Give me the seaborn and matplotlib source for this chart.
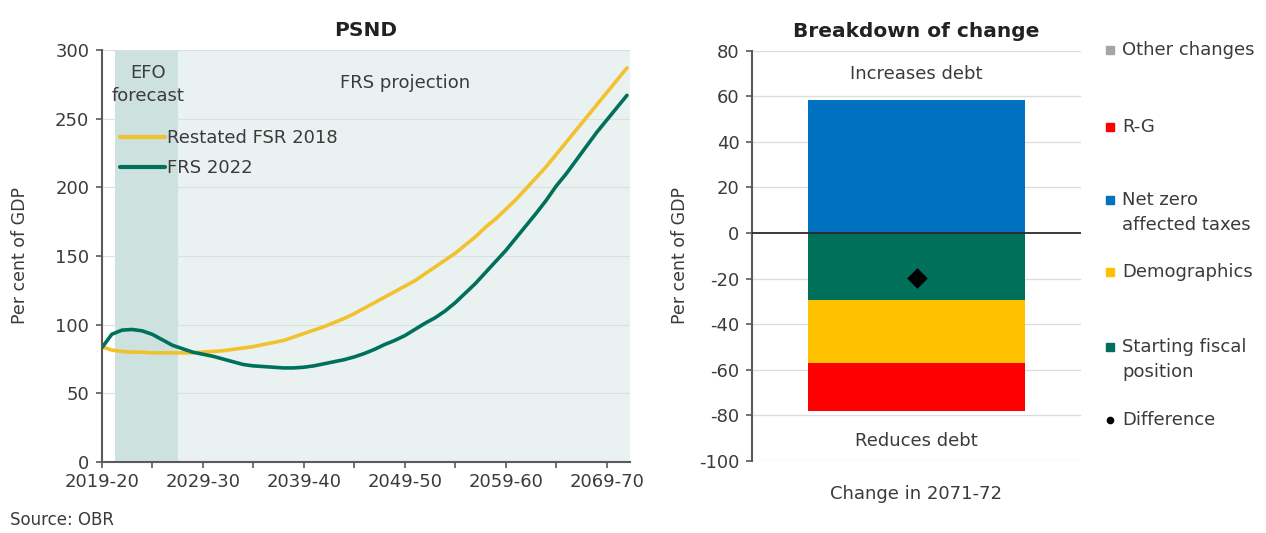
import numpy as np
import pandas as pd
import matplotlib
matplotlib.use("Agg")
import matplotlib.pyplot as plt
from matplotlib.lines import Line2D
import seaborn as sns

# PSND, per cent of GDP, 2019-20 .. 2071-72
years = [f"{y}-{(y + 1) % 100:02d}" for y in range(2019, 2072)]
fsr_2018 = [84, 81.5, 80.5, 80, 80, 79.5, 79.5, 79.5, 79.5, 79.5,
            80, 80.5, 81, 82, 83, 84, 85.5, 87, 88.5, 91,
            93.5, 96, 98.5, 101.5, 104.5, 108, 112, 116, 120, 124,
            128, 132, 137, 142, 147, 152, 158, 164, 171, 177,
            184, 191, 199, 207, 215, 224, 233, 242, 251, 260,
            269, 278, 287]
frs_2022 = [83, 93, 96, 96.5, 95.5, 93, 89, 85, 82.5, 80,
            78.5, 77, 75, 73, 71, 70, 69.5, 69, 68.5, 68.5,
            69, 70, 71.5, 73, 74.5, 76.5, 79, 82, 85.5, 88.5,
            92, 96.5, 101, 105, 110, 116, 123, 130, 138, 146,
            154, 163, 172, 181, 190.5, 201, 210, 220, 230, 240,
            249, 258, 267]
series_names = ["Restated FSR 2018", "FRS 2022"]

# breakdown of change in 2071-72
bar_category = "Change in 2071-72"
net_zero_taxes = 58.5
neg_labels = ["Starting fiscal position", "Demographics", "R-G"]
neg_values = [-29.5, -27.5, -21.2]
other_changes = 0.0
difference = -19.7

text_col = "#3b3b3b"
axis_col = "#5a5a5a"
fs = 13

sns.set_theme(style="white")
plt.rcParams["font.family"] = ["DejaVu Sans"]
plt.rcParams["axes.unicode_minus"] = False
plt.rcParams["text.color"] = text_col
plt.rcParams["axes.labelcolor"] = text_col
plt.rcParams["xtick.color"] = text_col
plt.rcParams["ytick.color"] = text_col

W, H = 1266, 533
fig = plt.figure(figsize=(W / 100, H / 100), dpi=100)

# ---------------- left: PSND ----------------
ax1 = fig.add_axes([101.7 / W, 71 / H, 528.3 / W, 412 / H])
x_end = 52.3
ax1.axvspan(1.3, 7.6, color="#cde2df", lw=0, zorder=0)
ax1.axvspan(7.6, x_end, color="#e9f1f1", lw=0, zorder=0)
for v in range(50, 301, 50):
    ax1.axhline(v, color="#d9e0e0", lw=0.8, zorder=0.5)

df = pd.DataFrame({
    "idx": list(range(len(years))) * 2,
    "value": fsr_2018 + frs_2022,
    "series": [series_names[0]] * len(years) + [series_names[1]] * len(years),
})
sns.lineplot(data=df, x="idx", y="value", hue="series",
             palette={series_names[0]: "#f2c12e", series_names[1]: "#00705b"},
             linewidth=2.6, ax=ax1)

ax1.set_xlim(0, x_end)
ax1.set_ylim(0, 300)
ticks = list(range(0, 53, 5))
ax1.set_xticks(ticks)
ax1.set_xticklabels([years[i] if i % 10 == 0 else "" for i in ticks], fontsize=fs)
ax1.set_yticks(range(0, 301, 50))
ax1.tick_params(axis="y", labelsize=fs, length=4, width=1.2, color=axis_col, pad=5, left=True)
ax1.tick_params(axis="x", length=4, width=1.2, color=axis_col, pad=4, bottom=True)
for s in ["top", "right"]:
    ax1.spines[s].set_visible(False)
for s in ["left", "bottom"]:
    ax1.spines[s].set_color(axis_col)
    ax1.spines[s].set_linewidth(1.5)
ax1.set_xlabel("")
ax1.set_ylabel("Per cent of GDP", fontsize=12.5)
ax1.yaxis.set_label_coords(-0.138, 0.5)
ax1.set_title("PSND", fontsize=14.5, pad=10, color="#222222", fontweight="semibold")

handles, labels = ax1.get_legend_handles_labels()
leg = ax1.legend(handles, labels, loc="upper left", bbox_to_anchor=(0.021, 0.825),
                 frameon=False, handlelength=2.5, handletextpad=0.1,
                 labelspacing=0.65, fontsize=fs, borderaxespad=0)
for ln in leg.get_lines():
    ln.set_linewidth(3)

ax1.text(4.6, 275, "EFO\nforecast", ha="center", va="center", fontsize=fs, linespacing=1.35)
ax1.text(30, 276, "FRS projection", ha="center", va="center", fontsize=fs)

# ---------------- right: breakdown ----------------
ax2 = fig.add_axes([752 / W, 72 / H, 329 / W, 410.3 / H])
for v in range(-100, 81, 20):
    if v != 0:
        ax2.axhline(v, color="#dcdcdc", lw=0.9, zorder=0)

bar_width = 0.657
neg_tops = np.cumsum(neg_values)
neg_colors = ["#00705b", "#ffc000", "#ff0000"]
# overlapping bars drawn from deepest to shallowest
for top, col in reversed(list(zip(neg_tops, neg_colors))):
    sns.barplot(x=[bar_category], y=[top], color=col, width=bar_width,
                errorbar=None, saturation=1, linewidth=0, ax=ax2, zorder=2)
sns.barplot(x=[bar_category], y=[net_zero_taxes + other_changes], color="#0070c0",
            width=bar_width, errorbar=None, saturation=1, linewidth=0, ax=ax2, zorder=2)
sns.stripplot(x=[bar_category], y=[difference], marker="D", size=10.5, color="black",
              jitter=False, linewidth=0, ax=ax2, zorder=4)

ax2.axhline(0, color="#2b2b2b", lw=1.3, zorder=3)
ax2.set_xlim(-0.5, 0.5)
ax2.set_ylim(-100, 80)
ax2.set_yticks(range(-100, 81, 20))
ax2.tick_params(axis="y", labelsize=fs, length=4, width=1.2, color=axis_col, pad=5, left=True)
ax2.tick_params(axis="x", labelsize=fs, length=0, pad=17)
for s in ["top", "right", "bottom"]:
    ax2.spines[s].set_visible(False)
ax2.spines["left"].set_color(axis_col)
ax2.spines["left"].set_linewidth(1.5)
ax2.set_xlabel("")
ax2.set_ylabel("Per cent of GDP", fontsize=12.5)
ax2.yaxis.set_label_coords(-0.19, 0.5)
ax2.set_title("Breakdown of change", fontsize=14.5, pad=10, color="#222222",
              fontweight="semibold")
ax2.text(0, 69.7, "Increases debt", ha="center", va="center", fontsize=fs)
ax2.text(0, -91.2, "Reduces debt", ha="center", va="center", fontsize=fs)

# right-hand legend
legend_items = [
    ("Other changes", "#a6a6a6", 50, "s"),
    ("R-G", "#ff0000", 127, "s"),
    ("Net zero\naffected taxes", "#0070c0", 200, "s"),
    ("Demographics", "#ffc000", 272, "s"),
    ("Starting fiscal\nposition", "#00705b", 347, "s"),
    ("Difference", "black", 420, "o"),
]
for label, col, ypx, mk in legend_items:
    fig.add_artist(Line2D([1110 / W], [1 - ypx / H], marker=mk, color=col,
                          markersize=6 if mk == "s" else 4.5, linestyle="none",
                          transform=fig.transFigure))
    for i, line in enumerate(label.split("\n")):
        fig.text(1122 / W, 1 - (ypx + 25 * i) / H, line, ha="left", va="center",
                 fontsize=fs)

fig.text(10 / W, 1 - 520 / H, "Source: OBR", ha="left", va="center", fontsize=12)

fig.savefig("out.png", dpi=100)
